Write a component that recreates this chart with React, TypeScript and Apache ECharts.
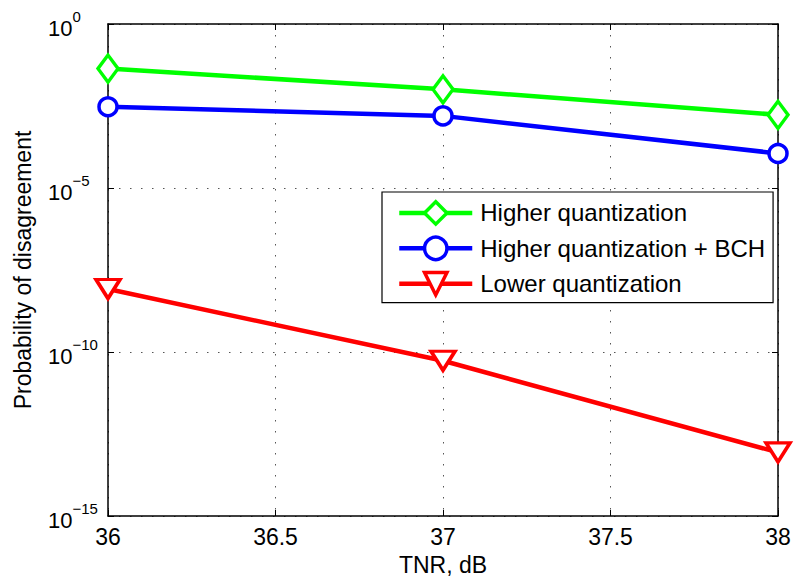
import React, { useEffect, useRef } from "react";
import * as echarts from "echarts";

const tnr = [36, 37, 38];
const higherQuant = [0.0437, 0.0102, 0.0017];
const higherQuantBCH = [0.003, 0.00158, 0.000113];
const lowerQuant = [8.3e-9, 5.4e-11, 8.7e-14];
const seriesNames = ["Higher quantization", "Higher quantization + BCH", "Lower quantization"];
const seriesColors = ["#00ff00", "#0000ff", "#ff0000"];
const xTicks = { min: 36, max: 38, step: 0.5 };
const yTicks = { min: 1e-15, max: 1, stepDecades: 5 };

const FONT = "'Liberation Sans', Arial, Helvetica, sans-serif";

export default function App() {
  const ref = useRef<HTMLDivElement>(null);
  useEffect(() => {
    if (!ref.current) return;
    const chart = echarts.init(ref.current, null, { renderer: "svg" });
    const mk = (name: string, data: number[], color: string, symbol: string, size: any, rotate = 0) => ({
      name,
      type: "line",
      xAxisIndex: 0,
      yAxisIndex: 0,
      data: tnr.map((x, i) => [x, data[i]]),
      symbol,
      symbolSize: size,
      symbolRotate: rotate,
      showAllSymbol: true,
      lineStyle: { color, width: 4.5 },
      itemStyle: { color: "#ffffff", borderColor: color, borderWidth: 3.5 },
      emphasis: { disabled: true },
      z: 3,
    });
    const grid = { left: 108, top: 24, right: 18, bottom: 66 };
    chart.setOption({
      animation: false,
      backgroundColor: "#ffffff",
      textStyle: { fontFamily: FONT },
      grid,
      legend: {
        show: true,
        orient: "vertical",
        left: 382,
        top: 192,
        padding: [8, 8, 6, 15],
        itemWidth: 73,
        itemHeight: 28,
        itemGap: 9.5,
        backgroundColor: "#ffffff",
        borderColor: "#000000",
        borderWidth: 1.2,
        borderRadius: 0,
        textStyle: { fontSize: 24, color: "#000", fontFamily: FONT, padding: [0, 0, 0, 3] },
        data: seriesNames.map((n, i) => ({
          name: n,
          lineStyle: { color: seriesColors[i], width: 4.5 },
          itemStyle: { color: "#ffffff", borderColor: seriesColors[i], borderWidth: 3.5 },
        })),
        selectedMode: false,
      },
      xAxis: [
        {
          type: "value",
          min: xTicks.min,
          max: xTicks.max,
          interval: xTicks.step,
          position: "bottom",
          name: "TNR, dB",
          nameLocation: "middle",
          nameGap: 37,
          nameTextStyle: { fontSize: 23, color: "#000", fontFamily: FONT },
          axisLine: { show: true, onZero: false, lineStyle: { color: "#000", width: 1.5 } },
          axisTick: { show: true, inside: true, length: 6, lineStyle: { color: "#000" } },
          axisLabel: { fontSize: 23, color: "#000", margin: 9, fontFamily: FONT },
          splitLine: { show: true, lineStyle: { color: "#555", type: [1.5, 9.5], width: 1 } },
        },
        {
          type: "value",
          min: xTicks.min,
          max: xTicks.max,
          interval: xTicks.step,
          position: "top",
          axisLine: { show: true, onZero: false, lineStyle: { color: "#000", width: 1.5 } },
          axisTick: { show: true, inside: true, length: 6, lineStyle: { color: "#000" } },
          axisLabel: { show: false },
          splitLine: { show: false },
        },
      ],
      yAxis: [
        {
          type: "log",
          logBase: 10,
          min: yTicks.min,
          max: yTicks.max,
          interval: yTicks.stepDecades,
          position: "left",
          name: "Probability of disagreement",
          nameLocation: "middle",
          nameGap: 74,
          nameTextStyle: { fontSize: 23, color: "#000", fontFamily: FONT },
          axisLine: { show: true, onZero: false, lineStyle: { color: "#000", width: 1.5 } },
          axisTick: { show: true, inside: true, length: 6, lineStyle: { color: "#000" } },
          minorTick: { show: false },
          axisLabel: {
            align: "left",
            margin: 60,
            color: "#000",
            formatter: (v: number) => {
              const e = Math.round(Math.log10(v));
              const s = e < 0 ? "\u2212" + Math.abs(e) : String(e);
              return "{b|10}{s|" + s + "}";
            },
            rich: {
              b: { fontSize: 22, fontFamily: FONT, color: "#000", lineHeight: 30, verticalAlign: "bottom" },
              s: { fontSize: 15, fontFamily: FONT, color: "#000", lineHeight: 30, verticalAlign: "top" },
            },
          },
          splitLine: { show: true, lineStyle: { color: "#555", type: [1.5, 9.5], width: 1 } },
        },
        {
          type: "log",
          logBase: 10,
          min: yTicks.min,
          max: yTicks.max,
          interval: yTicks.stepDecades,
          position: "right",
          axisLine: { show: true, onZero: false, lineStyle: { color: "#000", width: 1.5 } },
          axisTick: { show: true, inside: true, length: 6, lineStyle: { color: "#000" } },
          axisLabel: { show: false },
          splitLine: { show: false },
        },
      ],
      series: [
        mk(seriesNames[0], higherQuant, seriesColors[0], "diamond", [20, 27]),
        mk(seriesNames[1], higherQuantBCH, seriesColors[1], "circle", 18),
        mk(seriesNames[2], lowerQuant, seriesColors[2], "triangle", [24, 19], 180),
      ],
    });
    return () => chart.dispose();
  }, []);
  return (
    <div
      ref={ref}
      style={{ position: "fixed", left: 0, top: 0, width: 796, height: 582, background: "#fff" }}
    />
  );
}
